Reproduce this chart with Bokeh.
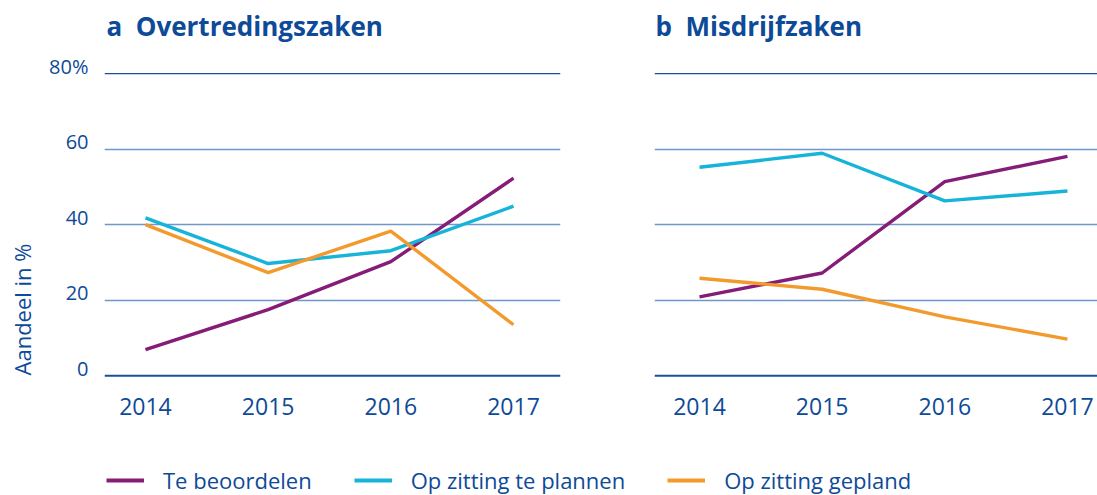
import math
from bokeh.plotting import figure
from bokeh.models import (Label, Span, FixedTicker, Range1d, Legend, LegendItem,
                          LinearAxis)
from bokeh.layouts import row, column
from bokeh.embed import file_html
from bokeh.resources import INLINE

# ---- data ----
years = [2014, 2015, 2016, 2017]
series_names = ["Te beoordelen", "Op zitting te plannen", "Op zitting gepland"]
a_te_beoordelen = [6.9, 17.5, 30.2, 52.3]
a_te_plannen = [41.8, 29.7, 33.1, 44.9]
a_gepland = [40.0, 27.3, 38.3, 13.5]
b_te_beoordelen = [20.9, 27.2, 51.4, 58.1]
b_te_plannen = [55.2, 58.9, 46.3, 48.9]
b_gepland = [25.8, 22.9, 15.6, 9.7]
y_ticks = [0, 20, 40, 60, 80]
y_tick_labels = {0: "0", 20: "20", 40: "40", 60: "60", 80: "80%"}
title_a = "a\u00a0 Overtredingszaken"
title_b = "b\u00a0 Misdrijfzaken"
y_label = "Aandeel in %"

# ---- style ----
FONT = "Open Sans"
TXT = "#0d4a98"
GRID = "#6f97cb"
DARK = "#1b4f9c"
COLORS = ["#851c78", "#16b4d8", "#f39a2d"]
Y_LO, Y_HI = -1, 84
LABEL_SHIFT = 2.0  # tick labels sit just above their grid line


def bare(width, height):
    f = figure(width=width, height=height, x_range=Range1d(0, 1), y_range=Range1d(0, 1),
               min_border=0, output_backend="svg", toolbar_location=None)
    f.axis.visible = False
    f.grid.visible = False
    f.outline_line_color = None
    return f


def panel(width, border_left, border_right, xr, data, show_y):
    p = figure(width=width, height=391, x_range=Range1d(*xr), y_range=Range1d(Y_LO, Y_HI),
               min_border_left=border_left, min_border_right=border_right,
               min_border_top=9, min_border_bottom=61,
               output_backend="svg", toolbar_location=None)
    p.outline_line_color = None
    p.xgrid.visible = False
    p.ygrid.ticker = FixedTicker(ticks=[20, 40, 60])
    p.ygrid.grid_line_color = GRID
    p.ygrid.grid_line_width = 1.5
    p.add_layout(Span(location=80, dimension="width", line_color=DARK, line_width=1.2))
    p.add_layout(Span(location=0, dimension="width", line_color=DARK, line_width=2))

    p.xaxis.ticker = FixedTicker(ticks=years)
    p.xaxis.axis_line_color = None
    p.xaxis.major_tick_line_color = None
    p.xaxis.minor_tick_line_color = None
    p.xaxis.major_label_standoff = 12
    p.xaxis.major_label_text_font = FONT
    p.xaxis.major_label_text_font_size = "23px"
    p.xaxis.major_label_text_color = TXT
    p.yaxis.visible = False

    if show_y:
        p.extra_y_ranges = {"labels": Range1d(Y_LO - LABEL_SHIFT, Y_HI - LABEL_SHIFT)}
        ax = LinearAxis(y_range_name="labels", ticker=FixedTicker(ticks=y_ticks),
                        major_label_overrides=y_tick_labels,
                        axis_line_color=None, major_tick_line_color=None,
                        minor_tick_line_color=None, major_label_standoff=10,
                        major_label_text_font=FONT, major_label_text_font_size="20px",
                        major_label_text_color=TXT)
        p.add_layout(ax, "left")

    rends = []
    for vals, c in zip(data, COLORS):
        rends.append(p.line(years, vals, line_color=c, line_width=3.4))
    return p, rends


# titles strip
top = bare(1097, 49)
for txt, x in [(title_a, 106), (title_b, 655)]:
    top.add_layout(Label(x=x, y=24, x_units="screen", y_units="screen", text=txt,
                         text_align="left", text_baseline="middle", text_font=FONT,
                         text_font_style="bold", text_font_size="26px", text_color=TXT))

# y-axis title strip (its frame is aligned with the panels' frames)
ylab = bare(40, 391)
ylab.add_layout(Label(x=21, y=4, x_units="screen", y_units="screen", text=y_label,
                      angle=math.pi / 2, text_align="left", text_baseline="middle",
                      text_font=FONT, text_font_size="22px", text_color=TXT))

pa, ra = panel(568, 64, 48, (2013.666, 2017.383),
               [a_te_beoordelen, a_te_plannen, a_gepland], True)
pb, rb = panel(489, 46, 0, (2013.633, 2017.245),
               [b_te_beoordelen, b_te_plannen, b_gepland], False)

# legend strip
leg = bare(1097, 55)
lr = []
for vals, c in zip([a_te_beoordelen, a_te_plannen, a_gepland], COLORS):
    lr.append(leg.line(years, vals, line_color=c, line_width=4))
legend = Legend(items=[LegendItem(label=n, renderers=[r]) for n, r in zip(series_names, lr)],
                orientation="horizontal", location=(106, 0), padding=0, margin=0,
                spacing=42, glyph_width=38, glyph_height=22, label_height=22,
                label_standoff=19, border_line_alpha=0, background_fill_alpha=0,
                label_text_font=FONT, label_text_font_size="22px", label_text_color=TXT)
leg.add_layout(legend, "center")

layout = column(top, row(ylab, pa, pb, spacing=0), leg, spacing=0)
open("out.html", "w").write(file_html(layout, INLINE))
